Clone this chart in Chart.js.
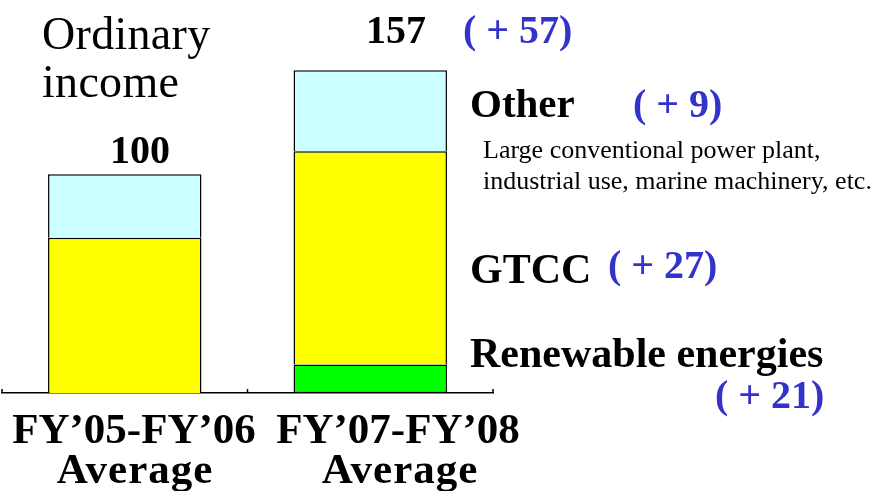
<!DOCTYPE html>
<html>
<head>
<meta charset="utf-8">
<script src="https://cdn.jsdelivr.net/npm/chart.js@4"></script>
<style>
  html, body { margin: 0; padding: 0; background: #fff; }
  canvas { display: block; }
</style>
</head>
<body>
<canvas id="incomeChart" width="882" height="491"></canvas>
<script>
// periods and stacked segments (index, FY'05-FY'06 average = 100)
const periods = ['FY\u201905-FY\u201906 Average', 'FY\u201907-FY\u201908 Average'];
const renewable = [null, 13];
const gtcc = [71, 97.5];
const other = [29, 37];

const BLUE = '#3333cc';
const SERIF = '"Liberation Serif", "Times New Roman", serif';

// little upward ticks at category boundaries
const axisTicks = {
  id: 'axisTicks',
  afterDraw(chart) {
    const x = chart.scales.x, ctx = chart.ctx, y = chart.chartArea.bottom;
    const pts = [x.left, (x.getPixelForValue(0) + x.getPixelForValue(1)) / 2, x.right];
    ctx.save();
    ctx.strokeStyle = '#000';
    ctx.lineWidth = 1.5;
    pts.forEach(px => {
      ctx.beginPath();
      ctx.moveTo(px, y);
      ctx.lineTo(px, y - 4);
      ctx.stroke();
    });
    ctx.restore();
  }
};

// all the texts around the bars
const texts = {
  id: 'texts',
  afterDraw(chart) {
    const ctx = chart.ctx;
    const put = (s, x, y, font, color, align, spacing) => {
      ctx.font = font;
      ctx.fillStyle = color || '#000';
      ctx.textAlign = align || 'left';
      ctx.letterSpacing = spacing || '0px';
      ctx.fillText(s, x, y);
    };
    ctx.save();
    ctx.textBaseline = 'alphabetic';
    put('Ordinary', 42, 49, '46px ' + SERIF, '#000', 'left', '0.3px');
    put('income', 42, 97, '46px ' + SERIF, '#000', 'left', '0.3px');
    put('100', 140, 163, 'bold 40px ' + SERIF, '#000', 'center');
    put('157', 396, 43, 'bold 40px ' + SERIF, '#000', 'center');
    put('( + 57)', 463, 43, 'bold 40px ' + SERIF, BLUE);
    put('Other', 470, 117, 'bold 41px ' + SERIF);
    put('( + 9)', 633, 117, 'bold 40px ' + SERIF, BLUE);
    put('Large conventional power plant,', 483, 158, '26px ' + SERIF);
    put('industrial use, marine machinery, etc.', 483, 189, '26px ' + SERIF);
    put('GTCC', 470, 283, 'bold 42px ' + SERIF);
    put('( + 27)', 608, 278, 'bold 40px ' + SERIF, BLUE);
    put('Renewable energies', 470, 367, 'bold 42px ' + SERIF);
    put('( + 21)', 715, 408, 'bold 40px ' + SERIF, BLUE);
    put('FY\u201905-FY\u201906', 134, 443, 'bold 43px ' + SERIF, '#000', 'center');
    put('Average', 135, 483, 'bold 43px ' + SERIF, '#000', 'center', '1px');
    put('FY\u201907-FY\u201908', 398, 443, 'bold 43px ' + SERIF, '#000', 'center');
    put('Average', 400, 483, 'bold 43px ' + SERIF, '#000', 'center', '1px');
    ctx.restore();
  }
};

const barStyle = {
  borderColor: '#000',
  borderWidth: 1.5,
  barPercentage: 0.625,
  categoryPercentage: 1
};

new Chart(document.getElementById('incomeChart'), {
  type: 'bar',
  data: {
    labels: periods,
    datasets: [
      Object.assign({ label: 'Renewable energies', data: renewable, backgroundColor: '#00ff00', borderSkipped: false }, barStyle),
      Object.assign({ label: 'GTCC', data: gtcc, backgroundColor: '#ffff00', borderSkipped: 'bottom' }, barStyle),
      Object.assign({ label: 'Other', data: other, backgroundColor: '#ccffff', borderSkipped: 'bottom' }, barStyle)
    ]
  },
  options: {
    responsive: false,
    animation: false,
    events: [],
    layout: { padding: { top: 43, left: 2, right: 389, bottom: 98 } },
    plugins: { legend: { display: false }, tooltip: { enabled: false } },
    scales: {
      x: {
        stacked: true,
        grid: { display: false },
        ticks: { display: false },
        border: { display: true, color: '#000', width: 1.5 },
        afterFit(s) { s.height = 0; }
      },
      y: {
        stacked: true,
        display: false,
        min: 0,
        max: 160
      }
    }
  },
  plugins: [axisTicks, texts]
});
</script>
</body>
</html>
